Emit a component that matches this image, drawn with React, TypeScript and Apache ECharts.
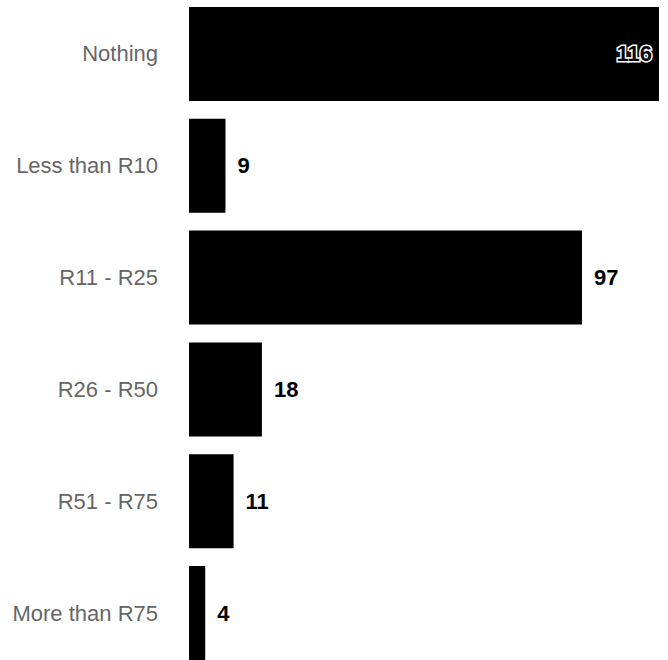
import React, { useEffect, useRef } from "react";
import * as echarts from "echarts";

const categories = ["Nothing", "Less than R10", "R11 - R25", "R26 - R50", "R51 - R75", "More than R75"];
const values = [116, 9, 97, 18, 11, 4];

export default function App() {
  const ref = useRef<HTMLDivElement>(null);
  useEffect(() => {
    if (!ref.current) return;
    const chart = echarts.init(ref.current, null, { renderer: "svg" });
    const maxV = Math.max(...values);
    chart.setOption({
      animation: false,
      grid: { left: 189, right: 9, top: 0, bottom: 0, containLabel: false },
      xAxis: { type: "value", min: 0, max: maxV, show: false },
      yAxis: {
        type: "category",
        data: categories,
        inverse: true,
        axisLine: { show: false },
        axisTick: { show: false },
        axisLabel: {
          color: "#666",
          fontSize: 22,
          fontFamily: "Liberation Sans, Arial, sans-serif",
          margin: 31,
        },
      },
      series: [
        {
          type: "bar",
          data: values.map((v) => ({
            value: v,
            label:
              v === maxV
                ? {
                    position: "insideRight",
                    distance: 7,
                    color: "#000",
                    textBorderColor: "#fff",
                    textBorderWidth: 3,
                  }
                : undefined,
          })),
          barCategoryGap: "16%",
          itemStyle: { color: "#000" },
          label: {
            show: true,
            position: "right",
            distance: 12,
            color: "#000",
            fontSize: 22,
            fontWeight: "bold",
            fontFamily: "Liberation Sans, Arial, sans-serif",
          },
        },
      ],
    });
    return () => chart.dispose();
  }, []);
  return (
    <div style={{ position: "absolute", left: 0, top: 0, width: 668, height: 660, overflow: "hidden", background: "#fff" }}>
      <div
        ref={ref}
        style={{ position: "absolute", left: 0, top: -2, width: 668, height: 671 }}
      />
    </div>
  );
}
